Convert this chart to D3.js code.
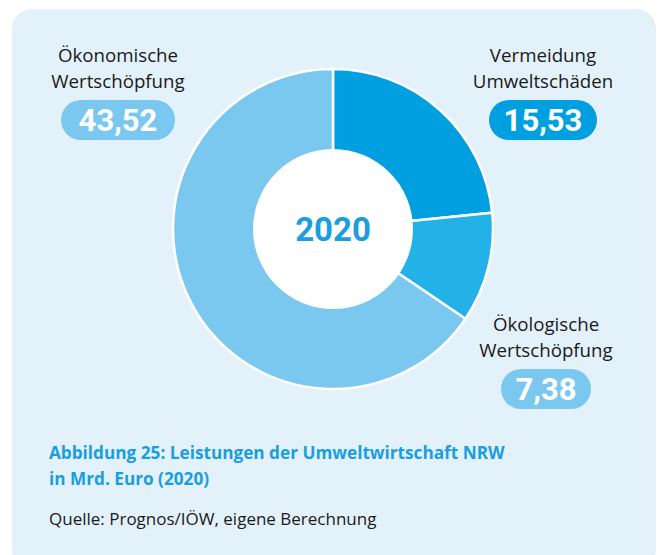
<!DOCTYPE html>
<meta charset="utf-8">
<style>
body { margin: 0; background: #fff; }
svg text { font-family: "Open Sans", Roboto, sans-serif; }
.label { fill: #1a1a1a; font-size: 18.7px; text-anchor: middle; }
.value { fill: #fff; font-size: 31px; font-weight: 700; text-anchor: middle; font-family: Roboto, sans-serif; }
.year { fill: #1a9ee0; font-size: 33px; font-weight: 700; text-anchor: middle; font-family: Roboto, sans-serif; }
.caption { fill: #1a9ee0; font-size: 17.2px; font-weight: 700; }
.source { fill: #1a1a1a; font-size: 17px; }
</style>
<svg class="chart"></svg>
<script src="https://d3js.org/d3.v7.min.js"></script>
<script>

var names = [["Vermeidung", "Umweltschäden"], ["Ökologische", "Wertschöpfung"], ["Ökonomische", "Wertschöpfung"]];
var values = [15.53, 7.38, 43.52];
var valueLabels = ["15,53", "7,38", "43,52"];
var sliceColors = ["#009fe0", "#22b2e8", "#7ac8ef"];
var pillColors = ["#009fe0", "#7ac8ef", "#7ac8ef"];
var year = "2020";
var captionLines = ["Abbildung 25: Leistungen der Umweltwirtschaft NRW", "in Mrd. Euro (2020)"];
var source = "Quelle: Prognos/IÖW, eigene Berechnung";

var width = 660, height = 555;
var cx = 333, cy = 229, outer = 160, inner = 80;

var svg = d3.select(".chart")
    .attr("width", width)
    .attr("height", height);

svg.append("rect")
    .attr("x", 12).attr("y", 9)
    .attr("width", 644).attr("height", 560)
    .attr("rx", 20)
    .attr("fill", "#e3f1fb");

var pie = d3.pie().sort(null).value(function(d){ return d; });
var arc = d3.arc().innerRadius(0).outerRadius(outer);

var g = svg.append("g").attr("transform", "translate(" + cx + "," + cy + ")");

g.selectAll("path")
    .data(pie(values))
    .enter()
    .append("path")
        .attr("d", arc)
        .attr("fill", function(d, i){ return sliceColors[i]; })
        .attr("stroke", "#fff")
        .attr("stroke-width", 2.5);

g.append("circle").attr("r", inner).attr("fill", "#fff");
g.append("text")
    .attr("class", "year")
    .attr("y", 12)
    .text(year);

// label positions (center x, first line baseline)
var labelPos = [[543, 62], [546, 331], [118, 62]];
var pillW = [108, 90, 114];

var labels = svg.append("g").selectAll("g")
    .data(values)
    .enter()
    .append("g")
        .attr("transform", function(d, i){ return "translate(" + labelPos[i][0] + "," + labelPos[i][1] + ")"; });

labels.append("text").attr("class", "label").text(function(d, i){ return names[i][0]; });
labels.append("text").attr("class", "label").attr("y", 26).text(function(d, i){ return names[i][1]; });
labels.append("rect")
    .attr("x", function(d, i){ return -pillW[i] / 2; })
    .attr("y", 38)
    .attr("width", function(d, i){ return pillW[i]; })
    .attr("height", 40)
    .attr("rx", 20)
    .attr("fill", function(d, i){ return pillColors[i]; });
labels.append("text").attr("class", "value").attr("y", 69).text(function(d, i){ return valueLabels[i]; });

svg.selectAll(".caption")
    .data(captionLines)
    .enter()
    .append("text")
        .attr("class", "caption")
        .attr("x", 49)
        .attr("y", function(d, i){ return 459 + i * 26; })
        .text(function(d){ return d; });

svg.append("text")
    .attr("class", "source")
    .attr("x", 49).attr("y", 525)
    .text(source);
</script>
